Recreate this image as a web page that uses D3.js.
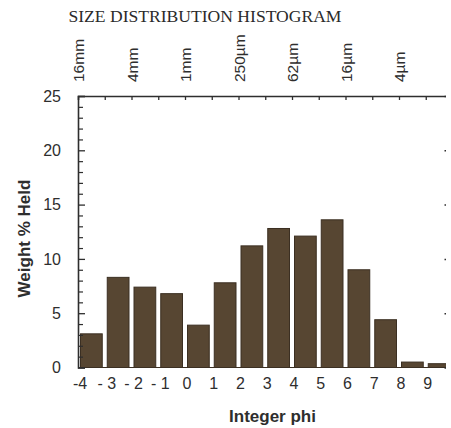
<!DOCTYPE html>
<html><head><meta charset="utf-8">
<script src="https://cdn.jsdelivr.net/npm/d3@7"></script>
<style>body{margin:0;background:#fff}</style>
</head><body><svg id="c" width="451" height="428"></svg>
<script>
const phi = [-4,-3,-2,-1,0,1,2,3,4,5,6,7,8,9];
const weightPct = [3.1,8.3,7.4,6.8,3.9,7.8,11.2,12.8,12.1,13.6,9.0,4.4,0.5,0.35];
const xTickLabels = ["-4","- 3","- 2","- 1","0","1","2","3","4","5","6","7","8","9"];
const yTicks = [0,5,10,15,20,25];
const sizePhi = [-4,-2,0,2,4,6,8,10];
const sizeLabels = ["16mm","4mm","1mm","250µm","62µm","16µm","4µm","1µm"];

const svg = d3.select("#c");
const x = d3.scaleLinear().domain([-4,10]).range([78,452.5]);
const y = d3.scaleLinear().domain([0,25]).range([367.5,96]);
const ink = "#2e2e2e";

// title
svg.append("text").attr("x",68.5).attr("y",21.7)
  .attr("font-family","'Liberation Serif','Times New Roman',serif").attr("font-size",17)
  .attr("fill","#2a2a2a").attr("textLength",273).attr("lengthAdjust","spacingAndGlyphs")
  .text("SIZE DISTRIBUTION HISTOGRAM");

const clip = svg.append("defs").append("clipPath").attr("id","clp");
clip.append("rect").attr("x",0).attr("y",0).attr("width",446).attr("height",428);
const g = svg.append("g").attr("clip-path","url(#clp)");

// top size labels (the last one is cut by the picture's right edge, as in the reference)
g.append("g").selectAll("text").data(sizePhi).join("text")
  .attr("transform",(d)=>`translate(${x(d)+0.5},82) rotate(-90)`)
  .attr("dy","0.36em")
  .attr("font-family","'Liberation Sans',Arial,sans-serif").attr("font-size",15.5)
  .attr("fill",ink)
  .text((d,i)=>sizeLabels[i]);

// bars
const bw = x(-3)-x(-4);
g.append("g").selectAll("rect").data(phi).join("rect")
  .attr("x",(d)=>x(d)+2.5).attr("width",bw-5)
  .attr("y",(d,i)=>y(weightPct[i])).attr("height",(d,i)=>y(0)-y(weightPct[i]))
  .attr("fill","#574632").attr("stroke","#3b2f22").attr("stroke-width",1);

// baseline
g.append("line").attr("x1",x(-4)).attr("x2",x(10)).attr("y1",y(0)).attr("y2",y(0))
  .attr("stroke","#3b2f22").attr("stroke-width",1);

// top axis
const topAxis = d3.axisTop(x).tickValues(d3.range(-3,10)).tickSize(-4).tickFormat("");
const ta = g.append("g").attr("transform",`translate(0,${y(25)})`).call(topAxis);
ta.select(".domain").attr("stroke",ink).attr("stroke-width",1.6);
ta.selectAll(".tick line").attr("stroke",ink).attr("stroke-width",1.3);

// right axis ticks
const rightAxis = d3.axisRight(y).tickValues([5,10,15,20]).tickSize(-8).tickFormat("");
const ra = g.append("g").attr("transform",`translate(${x(10)},0)`).call(rightAxis);
ra.select(".domain").attr("stroke",ink).attr("stroke-width",1.6);
ra.selectAll(".tick line").attr("stroke",ink).attr("stroke-width",1.5);

// left axis: minor
const minor = d3.axisLeft(y).tickValues(d3.range(0,26).filter(v=>v%5!==0)).tickSize(-5).tickFormat("");
const lm = svg.append("g").attr("transform",`translate(${x(-4)},0)`).call(minor);
lm.select(".domain").remove();
lm.selectAll(".tick line").attr("stroke",ink).attr("stroke-width",1.2);
// left axis major
const major = d3.axisLeft(y).tickValues(yTicks).tickSize(-7).tickPadding(17).tickFormat(d3.format("d"));
const la = svg.append("g").attr("transform",`translate(${x(-4)},0)`).call(major);
la.select(".domain").attr("stroke",ink).attr("stroke-width",1.6);
la.selectAll(".tick line").attr("stroke",ink).attr("stroke-width",1.3);
la.selectAll(".tick text").attr("font-family","'Liberation Sans',Arial,sans-serif")
  .attr("font-size",16).attr("fill",ink);

// bottom labels
svg.append("g").selectAll("text").data(phi).join("text")
  .attr("x",(d)=>x(d)+2).attr("y",389).attr("text-anchor","middle")
  .attr("font-family","'Liberation Sans',Arial,sans-serif").attr("font-size",16)
  .attr("fill",ink).text((d,i)=>xTickLabels[i]);

// axis titles
svg.append("text").attr("x",272.5).attr("y",421.5).attr("text-anchor","middle")
  .attr("font-family","'Liberation Sans',Arial,sans-serif").attr("font-size",17).attr("font-weight","bold")
  .attr("fill",ink).text("Integer phi");
svg.append("text").attr("transform","translate(30,238.5) rotate(-90)").attr("text-anchor","middle")
  .attr("font-family","'Liberation Sans',Arial,sans-serif").attr("font-size",17).attr("font-weight","bold")
  .attr("fill",ink).text("Weight % Held");
</script></body></html>
